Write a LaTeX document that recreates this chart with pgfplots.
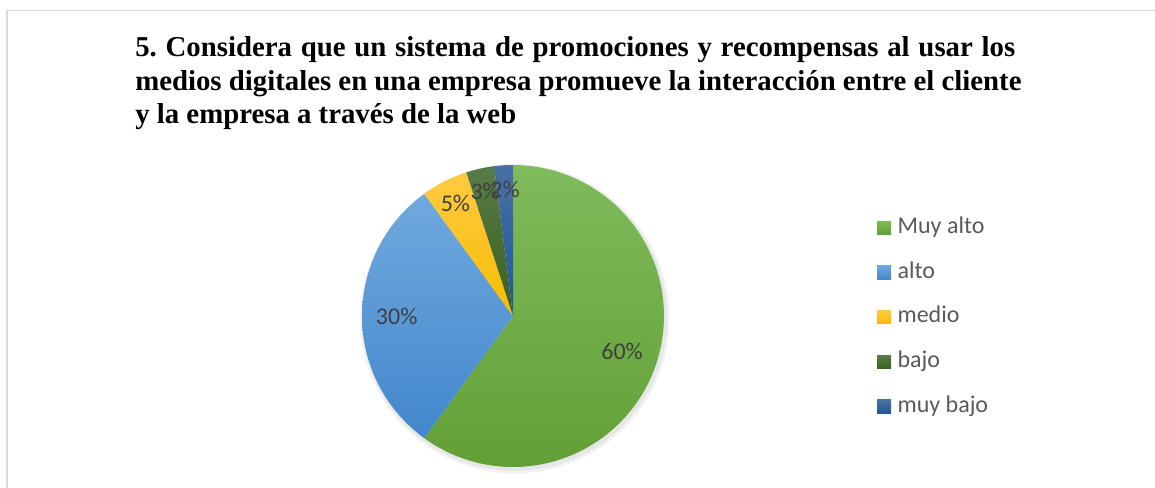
\documentclass[border=0pt]{standalone}
\usepackage{fontspec}
\setmainfont{Carlito}
\newfontfamily\titlefont{Liberation Serif}
\usepackage{pgfplots}
\usepackage{pgfplotstable}
\pgfplotsset{compat=1.18}
\frenchspacing

\definecolor{top0}{RGB}{128,187,92}
\definecolor{bot0}{RGB}{98,160,54}
\definecolor{top1}{RGB}{112,169,222}
\definecolor{bot1}{RGB}{66,135,204}
\definecolor{top2}{RGB}{255,202,66}
\definecolor{bot2}{RGB}{247,188,0}
\definecolor{top3}{RGB}{88,124,70}
\definecolor{bot3}{RGB}{58,96,32}
\definecolor{top4}{RGB}{74,112,166}
\definecolor{bot4}{RGB}{32,88,148}
\definecolor{labgray}{RGB}{64,64,64}
\definecolor{leggray}{RGB}{89,89,89}
\definecolor{framegray}{RGB}{217,217,217}

\newcommand\labfont{\fontsize{18}{20}\selectfont}
\newcommand\ttlfont{\titlefont\bfseries\fontsize{21.6}{24.75}\selectfont\frenchspacing}

% percentages and label radius (fraction of pie radius)
\pgfplotstableread{
value r
60 0.76
30 0.77
5  0.84
3  0.845
2  0.84
}\piedata

\begin{document}
\begin{tikzpicture}
\useasboundingbox (0,0) rectangle (866.25pt,-366pt);
% frame
\draw[framegray, line width=1.3pt] (5.4pt,-370pt) -- (5.4pt,-7.8pt) -- (870pt,-7.8pt);
% title
\node[anchor=base west, inner sep=0pt, font=\ttlfont] at (101.25pt,-42.75pt) {\makebox[660pt][s]{5. Considera que un sistema de promociones y recompensas al usar los}};
\node[anchor=base west, inner sep=0pt, font=\ttlfont] at (101.25pt,-67.9pt) {medios digitales en una empresa promueve la interacción entre el cliente};
\node[anchor=base west, inner sep=0pt, font=\ttlfont] at (101.25pt,-93pt) {y la empresa a través de la web};

% slice angles from the data
\pgfmathsetmacro\cum{0}
\pgfplotsforeachungrouped \i in {0,...,4}{%
  \pgfplotstablegetelem{\i}{value}\of\piedata
  \pgfmathsetmacro\v{\pgfplotsretval}%
  \pgfplotstablegetelem{\i}{r}\of\piedata
  \pgfmathsetmacro\rr{\pgfplotsretval}%
  \pgfmathsetmacro\as{90-3.6*\cum}%
  \pgfmathsetmacro\cum{\cum+\v}%
  \pgfmathsetmacro\ae{90-3.6*\cum}%
  \pgfmathsetmacro\am{(\as+\ae)/2}%
  \pgfmathsetmacro\lx{\rr*cos(\am)}%
  \pgfmathsetmacro\ly{\rr*sin(\am)}%
  \pgfmathtruncatemacro\vi{\v}%
  \expandafter\xdef\csname sliceS\i\endcsname{\as}%
  \expandafter\xdef\csname sliceE\i\endcsname{\ae}%
  \expandafter\xdef\csname sliceX\i\endcsname{\lx}%
  \expandafter\xdef\csname sliceY\i\endcsname{\ly}%
  \expandafter\xdef\csname sliceV\i\endcsname{\vi}%
}

\begin{axis}[
  at={(384.75pt,-237pt)}, anchor=origin,
  x=113.25pt, y=113.25pt,
  xmin=-1.2, xmax=1.2, ymin=-1.2, ymax=1.2,
  hide axis, clip=false,
  legend cell align=left,
  legend image code/.code={\fill[#1, draw=none] (0pt,-5pt) rectangle (10.5pt,5pt);},
  legend style={at={(axis cs:2.41,0.658)}, anchor=north west, draw=none, fill=none,
    inner sep=0pt, font=\labfont, text=leggray, row sep=17pt, column sep=4.8pt,
    nodes={inner sep=0pt, text height=12.5pt, text depth=4pt}},
]
% soft shadow
\fill[black, opacity=0.05] (axis cs:0.012,-0.018) circle[radius=116pt];
\fill[black, opacity=0.05] (axis cs:0.010,-0.015) circle[radius=114.5pt];
\pgfplotsinvokeforeach{0,...,4}{
  \edef\temp{\noexpand\addplot[draw=none, top color=top#1, bottom color=bot#1, data cs=polar,
    domain=\csname sliceE#1\endcsname:\csname sliceS#1\endcsname, samples=90, forget plot]}
  \temp ({x},{1}) -- (axis cs:0,0) -- cycle;
}
\pgfplotsinvokeforeach{0,...,4}{
  \edef\temp{\noexpand\node[font=\noexpand\labfont, text=labgray] at (axis cs:\csname sliceX#1\endcsname,\csname sliceY#1\endcsname) {\csname sliceV#1\endcsname\noexpand\%};}
  \temp
}
\addlegendimage{top color=top0, bottom color=bot0}\addlegendentry{Muy alto}
\addlegendimage{top color=top1, bottom color=bot1}\addlegendentry{alto}
\addlegendimage{top color=top2, bottom color=bot2}\addlegendentry{medio}
\addlegendimage{top color=top3, bottom color=bot3}\addlegendentry{bajo}
\addlegendimage{top color=top4, bottom color=bot4}\addlegendentry{muy bajo}
\end{axis}
\end{tikzpicture}
\end{document}
